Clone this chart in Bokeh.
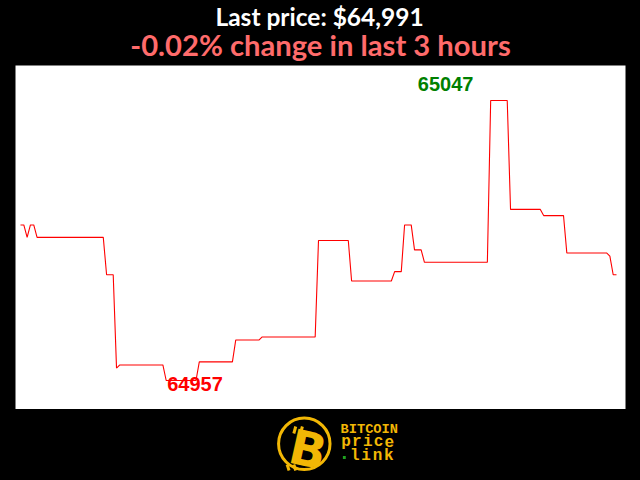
from bokeh.plotting import figure
from bokeh.layouts import column
from bokeh.models import Range1d
from bokeh.core.properties import value
from bokeh.embed import file_html
from bokeh.resources import INLINE

# ---- data (minutes over the last 3 hours, price in USD) ----
minutes = [0, 1, 2, 3, 4, 5, 25, 26, 28, 29, 30, 43, 44, 53, 54, 64, 65, 72, 73, 89,
           90, 99, 100, 112, 113, 115, 116, 118, 119, 121, 122, 141, 142, 147, 148,
           157, 158, 164, 165, 177, 178, 179, 180]
prices = [65007, 65007, 65003, 65007, 65007, 65003, 65003, 64991, 64991, 64961, 64962,
          64962, 64957, 64957, 64963, 64963, 64970, 64970, 64971, 64971, 65002, 65002,
          64989, 64989, 64992, 64992, 65007, 65007, 64999, 64999, 64995, 64995, 65047,
          65047, 65012, 65012, 65010, 65010, 64998, 64998, 64997, 64991, 64991]
title_text = "Last price: $64,991"
subtitle_text = "-0.02% change in last 3 hours"
logo_word1 = "BITCOIN"
logo_word2 = "price"
logo_word3 = "link"

GOLD = "#f2b705"
W = 640


def bare(p, bg):
    p.xgrid.visible = False
    p.ygrid.visible = False
    p.outline_line_color = None
    p.background_fill_color = bg
    p.border_fill_color = "black"
    return p


# ---- header ----
header = figure(width=W, height=65, x_range=Range1d(0, W), y_range=Range1d(65, 0),
                output_backend="svg", toolbar_location=None,
                x_axis_location=None, y_axis_location=None,
                min_border_left=0, min_border_right=0, min_border_top=0, min_border_bottom=0)
bare(header, "black")
header.text(x=[319], y=[16], text=[title_text], text_font=value("Lato"),
            text_font_style="bold", text_font_size=value("24.5px"), text_color="white",
            text_align="center", text_baseline="alphabetic")
header.text(x=[320], y=[43.5], text=[subtitle_text], text_font=value("Lato"),
            text_font_style="bold", text_font_size=value("29.2px"), text_color="#ff6b6b",
            text_align="center", text_baseline="alphabetic")

# ---- main chart ----
main = figure(width=W, height=344,
              x_range=Range1d(-1.51, 182.72), y_range=Range1d(64947.68, 65058.25),
              output_backend="svg", toolbar_location=None,
              x_axis_location=None, y_axis_location=None,
              min_border_left=15, min_border_right=15, min_border_top=0, min_border_bottom=0)
bare(main, "white")
main.line(minutes, prices, line_color="#ff0000", line_width=1.1)

pmax = max(prices)
pmin = min(prices)
tmax = minutes[prices.index(pmax)]
tmin = minutes[prices.index(pmin)]
main.text(x=[tmax], y=[pmax], text=[str(pmax)], text_font=value("Liberation Sans"),
          text_font_style="bold", text_font_size=value("20px"), text_color="#008000",
          text_align="center", text_baseline="alphabetic", x_offset=-45, y_offset=-17)
main.text(x=[tmin], y=[pmin], text=[str(pmin)], text_font=value("Liberation Sans"),
          text_font_style="bold", text_font_size=value("20px"), text_color="#ff0000",
          text_align="left", text_baseline="alphabetic", x_offset=1, y_offset=3)

# ---- logo ----
logo = figure(width=W, height=71, x_range=Range1d(0, W), y_range=Range1d(71, 0),
              output_backend="svg", toolbar_location=None,
              x_axis_location=None, y_axis_location=None,
              min_border_left=0, min_border_right=0, min_border_top=0, min_border_bottom=0)
bare(logo, "black")
logo.circle(x=[303], y=[34.3], radius=27, fill_color="black", line_color=GOLD, line_width=3)
logo.segment(x0=[292, 299, 285, 292], y0=[24, 24, 55, 55],
             x1=[294, 301, 287, 294], y1=[17, 17, 61, 61], line_color=GOLD, line_width=3)
logo.text(x=[307], y=[40], text=["B"], text_font=value("DejaVu Sans"), text_font_style="bold",
          text_font_size=value("48px"), text_color=GOLD, text_align="center",
          text_baseline="middle", angle=-0.22)
logo.text(x=[341], y=[20], text=[logo_word1], text_font=value("Liberation Mono"),
          text_font_style="bold", text_font_size=value("13.7px"), text_color=GOLD,
          text_align="left", text_baseline="alphabetic")
logo.text(x=[341 + 11.4 * (i + 0.5) for i in range(len(logo_word2))], y=[32] * len(logo_word2),
          text=list(logo_word2), text_font=value("Liberation Mono"), text_font_style="bold",
          text_font_size=value("16px"), text_color=GOLD, text_align="center",
          text_baseline="alphabetic")
logo.text(x=[350 + 11.9 * (i + 0.5) for i in range(len(logo_word3))], y=[46] * len(logo_word3),
          text=list(logo_word3), text_font=value("Liberation Mono"), text_font_style="bold",
          text_font_size=value("16px"), text_color=GOLD, text_align="center",
          text_baseline="alphabetic")
logo.rect(x=[345], y=[48], width=3, height=3, fill_color="#1fa31f", line_color=None)

layout = column(header, main, logo, spacing=0)

html = file_html(layout, INLINE, title="Bitcoin price")
html = html.replace("</head>",
                    "<style>html,body{background:#000000;margin:0;padding:0;overflow:hidden;}</style></head>")
open("out.html", "w").write(html)
